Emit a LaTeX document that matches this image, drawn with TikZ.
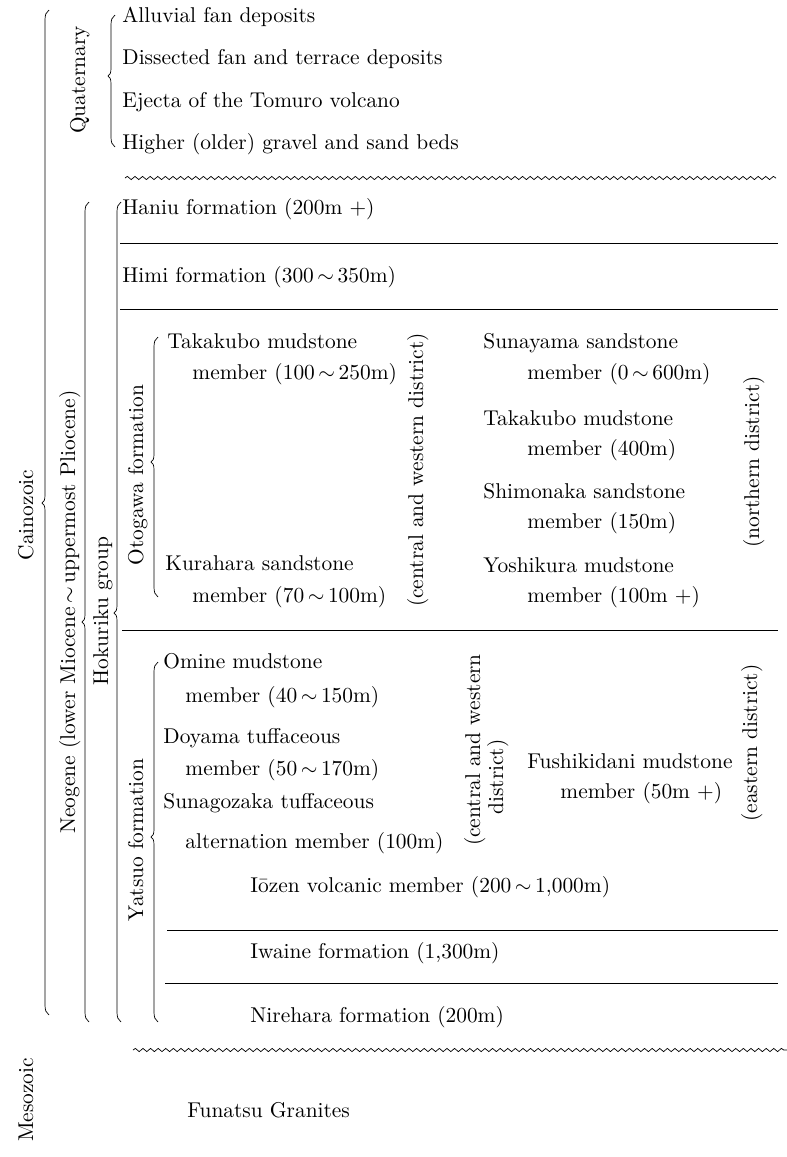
\documentclass[tikz,border=0pt]{standalone}
\usetikzlibrary{decorations.pathmorphing}
% vertical curly brace: x, top, cusp, bottom (y grows downward)
\newcommand\stratbrace[4]{%
  \draw[brc] (#1+4,#2) .. controls (#1+1,#2+2) and (#1,#2+5) .. (#1,#2+10)
    -- (#1,#3-8) .. controls (#1,#3-3) and (#1-1,#3-1) .. (#1-3,#3)
    .. controls (#1-1,#3+1) and (#1,#3+3) .. (#1,#3+8)
    -- (#1,#4-10) .. controls (#1,#4-5) and (#1+1,#4-2) .. (#1+4,#4);}
\begin{document}
\begin{tikzpicture}[x=1pt,y=-1pt,
  txt/.style={font=\fontsize{10}{12}\selectfont, scale=2.14, inner sep=0pt, anchor=base west},
  vtxt/.style={font=\fontsize{10}{12}\selectfont, scale=2.14, inner sep=0pt, anchor=base, rotate=90},
  rule/.style={line width=0.8pt},
  unconf/.style={line width=0.7pt, decorate, decoration={snake, segment length=7.6pt, amplitude=1.6pt}},
  brc/.style={line width=0.7pt}]
\useasboundingbox (0,0) rectangle (787,1157);

% ---- era / period / group / formation labels
\node[vtxt] (cain) at (33,515) {Cainozoic};
\node[vtxt] (quat) at (85,80) {Quaternary};
\node[vtxt] (neog) at (75,612) {Neogene (lower Miocene\,$\sim$\,uppermost Pliocene)};
\node[vtxt] (hoku) at (108,611) {Hokuriku group};
\node[vtxt] (otog) at (143,475) {Otogawa formation};
\node[vtxt] (yats) at (143,840) {Yatsuo formation};
\node[vtxt] (meso) at (33,1100) {Mesozoic};

% ---- braces
\stratbrace{45}{10}{503}{1015}
\stratbrace{111}{15}{76}{147}
\stratbrace{85}{202}{622}{1022}
\stratbrace{117}{202}{613}{1022}
\stratbrace{154}{337}{462}{597}
\stratbrace{154}{662}{837}{1022}

% ---- Quaternary deposits
\node[txt] (q1) at (122,22) {Alluvial fan deposits};
\node[txt] (q2) at (122,64) {Dissected fan and terrace deposits};
\node[txt] (q3) at (122,107) {Ejecta of the Tomuro volcano};
\node[txt] (q4) at (122,149) {Higher (older) gravel and sand beds};

% ---- unconformities
\coordinate (w1a) at (125,178); \coordinate (w1b) at (776,178);
\draw[unconf] (w1a) -- (w1b);
\coordinate (w2a) at (133,1050); \coordinate (w2b) at (787,1050);
\draw[unconf] (w2a) -- (w2b);

% ---- Hokuriku group
\node[txt] (hani) at (122,214) {Haniu formation (200m +)};
\coordinate (r1a) at (120,243); \coordinate (r1b) at (778,243);
\draw[rule] (r1a) -- (r1b);
\node[txt] (himi) at (122,282) {Himi formation (300\,$\sim$\,350m)};
\coordinate (r2a) at (120,309); \coordinate (r2b) at (778,309);
\draw[rule] (r2a) -- (r2b);

% Otogawa formation, central and western district
\node[txt] (o1) at (167,348) {Takakubo mudstone};
\node[txt] (o1m) at (192,379) {member (100\,$\sim$\,250m)};
\node[txt] (o2) at (165,570) {Kurahara sandstone};
\node[txt] (o2m) at (192,602) {member (70\,$\sim$\,100m)};
\node[vtxt] (cw1) at (423,470) {(central and western district)};

% Otogawa formation, northern district
\node[txt] (n1) at (483,348) {Sunayama sandstone};
\node[txt] (n1m) at (527,379) {member (0\,$\sim$\,600m)};
\node[txt] (n2) at (483,425) {Takakubo mudstone};
\node[txt] (n2m) at (527,455) {member (400m)};
\node[txt] (n3) at (483,498) {Shimonaka sandstone};
\node[txt] (n3m) at (527,528) {member (150m)};
\node[txt] (n4) at (483,572) {Yoshikura mudstone};
\node[txt] (n4m) at (527,602) {member (100m +)};
\node[vtxt] (nd) at (759,462) {(northern district)};

\coordinate (r3a) at (122,630); \coordinate (r3b) at (778,630);
\draw[rule] (r3a) -- (r3b);

% Yatsuo formation, central and western district
\node[txt] (y1) at (163,668) {Omine mudstone};
\node[txt] (y1m) at (185,702) {member (40\,$\sim$\,150m)};
\node[txt] (y2) at (163,743) {Doyama tuffaceous};
\node[txt] (y2m) at (185,775) {member (50\,$\sim$\,170m)};
\node[txt] (y3) at (163,808) {Sunagozaka tuffaceous};
\node[txt] (y3m) at (185,848) {alternation member (100m)};
\node[vtxt] (cw2a) at (480,750) {(central and western};
\node[vtxt] (cw2b) at (503,777) {district)};

% Yatsuo formation, eastern district
\node[txt] (e1) at (527,768) {Fushikidani mudstone};
\node[txt] (e1m) at (560,798) {member (50m +)};
\node[vtxt] (ed) at (757,743) {(eastern district)};

\node[txt] (ioz) at (250,892) {Iōzen volcanic member (200\,$\sim$\,1,000m)};
\coordinate (r4a) at (167,930); \coordinate (r4b) at (778,930);
\draw[rule] (r4a) -- (r4b);
\node[txt] (iwa) at (250,958) {Iwaine formation (1,300m)};
\coordinate (r5a) at (165,983); \coordinate (r5b) at (778,983);
\draw[rule] (r5a) -- (r5b);
\node[txt] (nir) at (250,1022) {Nirehara formation (200m)};

% ---- basement
\node[txt] (fun) at (187,1117) {Funatsu Granites};
\end{tikzpicture}
\end{document}
